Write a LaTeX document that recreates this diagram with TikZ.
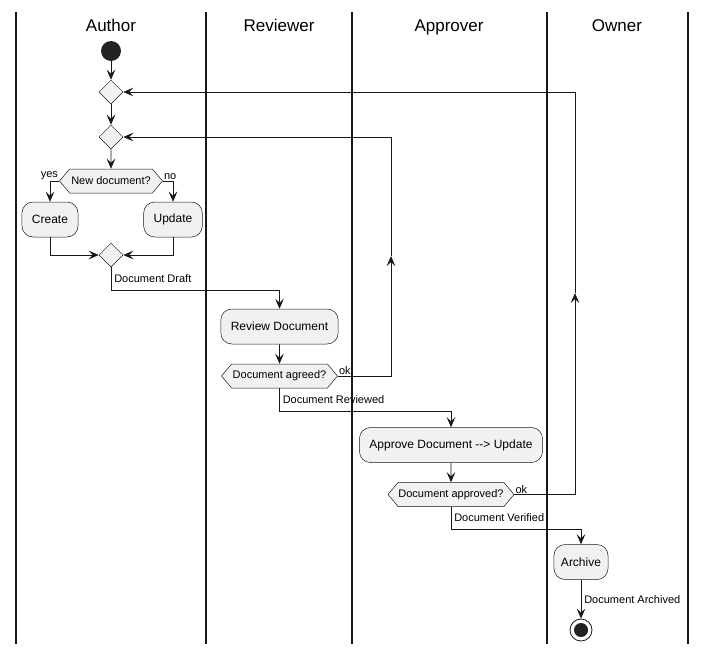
\documentclass[tikz,border=0pt]{standalone}
\usepackage{fontspec}
\setmainfont{Liberation Sans}
\usetikzlibrary{shapes.geometric, shapes.symbols, arrows.meta}
\definecolor{boxfill}{HTML}{F1F1F1}
\definecolor{boxline}{HTML}{181818}
\definecolor{dotfill}{HTML}{222222}
\tikzstyle{lane} = [line width=1.4pt, draw=boxline]
\tikzstyle{lanetitle} = [anchor=base, font=\fontsize{17}{20}\selectfont]
\tikzstyle{action} = [rectangle, rounded corners=11pt, minimum height=35pt, inner xsep=10pt, text centered, draw=boxline, fill=boxfill, line width=0.5pt, font=\fontsize{12}{14}\selectfont]
\tikzstyle{decision} = [signal, signal to=west and east, signal from=nowhere, signal pointer angle=100, minimum height=24pt, inner xsep=0pt, inner ysep=0pt, draw=boxline, fill=boxfill, line width=0.5pt, font=\fontsize{11}{13}\selectfont]
\tikzstyle{merge} = [diamond, minimum width=24pt, minimum height=24pt, inner sep=0pt, draw=boxline, fill=boxfill, line width=0.5pt]
\tikzstyle{startdot} = [circle, minimum size=20pt, inner sep=0pt, fill=dotfill]
\tikzstyle{stopring} = [circle, minimum size=22pt, inner sep=0pt, draw=boxline, line width=0.8pt, fill=white]
\tikzstyle{stopdot} = [circle, minimum size=14pt, inner sep=0pt, fill=dotfill]
\tikzstyle{flowlabel} = [font=\fontsize{11}{13}\selectfont, inner sep=1pt]
\tikzstyle{arrow} = [line width=0.6pt, draw=boxline, -{Stealth[length=10pt, width=8.5pt, inset=4pt]}]

\begin{document}
\begin{tikzpicture}[x=1pt, y=-1pt]

    \useasboundingbox (0,0) rectangle (705,654);

    % Swimlanes
    \foreach \x in {16, 206, 352, 547, 688}
        \draw [lane] (\x,12) -- (\x,644);
    \node (lauthor) [lanetitle] at (111,31) {Author};
    \node (lreviewer) [lanetitle] at (279,31) {Reviewer};
    \node (lapprover) [lanetitle] at (449,31) {Approver};
    \node (lowner) [lanetitle] at (617,31) {Owner};

    % Nodes
    \node (start) [startdot] at (111,51) {};
    \node (m1) [merge] at (111,92) {};
    \node (m2) [merge] at (111,137) {};
    \node (newdoc) [decision, minimum width=103pt] at (111,181) {New document?};
    \node (create) [action] at (50,219.5) {Create};
    \node (update) [action] at (173,219.5) {Update};
    \node (m3) [merge] at (111,255) {};
    \node (review) [action] at (279.5,326.5) {Review Document};
    \node (agreed) [decision, minimum width=116pt] at (279.5,376) {Document agreed?};
    \node (approve) [action] at (451,445) {Approve Document -{}-{}> Update};
    \node (approved) [decision, minimum width=126pt] at (451,494.5) {Document approved?};
    \node (archive) [action, inner xsep=7pt] at (581,562) {Archive};
    \node (stop) [stopring] at (581,630) {};
    \node (stopin) [stopdot] at (stop) {};

    % Loop corners
    \coordinate (okrev) at (391,376);
    \coordinate (okrevmid) at (391,256);
    \coordinate (okrevtop) at (391,137);
    \coordinate (okapp) at (575,494.5);
    \coordinate (okappmid) at (575,293);
    \coordinate (okapptop) at (575,92);

    % Arrows
    \draw [arrow] (start) -- (m1);
    \draw [arrow] (m1) -- (m2);
    \draw [arrow] (m2) -- (newdoc);
    \draw [arrow] (newdoc.west) -| (create);
    \draw [arrow] (newdoc.east) -| (update);
    \node (yes) [flowlabel, anchor=south east] at (newdoc.west) {yes};
    \node (no) [flowlabel, anchor=south west] at (newdoc.east) {no};
    \draw [arrow] (create) |- (m3);
    \draw [arrow] (update) |- (m3);
    \draw [arrow] (m3.south) -- node [flowlabel, right, xshift=2pt] {Document Draft} ++(0,23) -| (review);
    \draw [arrow] (review) -- (agreed);
    \draw [arrow] (agreed.east) -- (okrev) -- (okrevmid);
    \draw [arrow] (okrevmid) -- (okrevtop) -- (m2.east);
    \node (okr) [flowlabel, anchor=south west] at (agreed.east) {ok};
    \draw [arrow] (agreed.south) -- node [flowlabel, right, xshift=2pt] {Document Reviewed} ++(0,23.5) -| (approve);
    \draw [arrow] (approve) -- (approved);
    \draw [arrow] (approved.east) -- (okapp) -- (okappmid);
    \draw [arrow] (okappmid) -- (okapptop) -- (m1.east);
    \node (oka) [flowlabel, anchor=south west] at (approved.east) {ok};
    \draw [arrow] (approved.south) -- node [flowlabel, right, xshift=2pt] {Document Verified} ++(0,22.5) -| (archive);
    \draw [arrow] (archive) -- node [flowlabel, right, xshift=2pt] {Document Archived} (stop);

\end{tikzpicture}
\end{document}
